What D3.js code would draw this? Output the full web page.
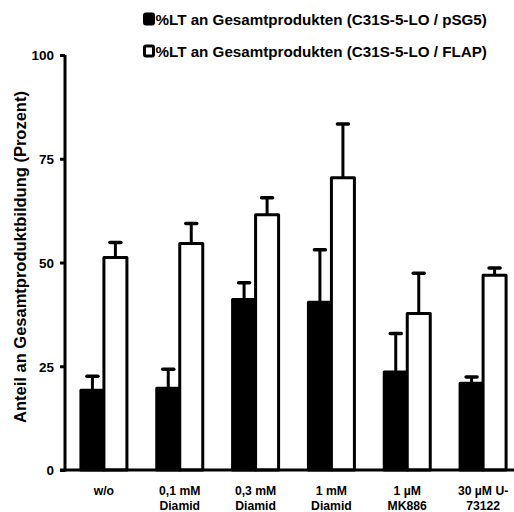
<!DOCTYPE html>
<html>
<head>
<meta charset="utf-8">
<script src="https://cdn.jsdelivr.net/npm/d3@7"></script>
<style>
  html, body { margin: 0; padding: 0; background: #fff; }
  svg { display: block; }
  text { font-family: "Liberation Sans", Arial, sans-serif; font-weight: bold; fill: #000; }
</style>
</head>
<body>
<svg id="chart" width="514" height="512"></svg>
<script>
// Categories (two-line tick labels)
const categories = ["w/o", "0,1 mM Diamid", "0,3 mM Diamid", "1 mM Diamid", "1 µM MK886", "30 µM U-73122"];
const categoryLines = [["w/o"], ["0,1 mM", "Diamid"], ["0,3 mM", "Diamid"], ["1 mM", "Diamid"], ["1 µM", "MK886"], ["30 µM U-", "73122"]];

// Series: mean and upper error (SD)
const seriesNames = ["%LT an Gesamtprodukten (C31S-5-LO / pSG5)", "%LT an Gesamtprodukten (C31S-5-LO / FLAP)"];
const pSG5Values = [19.2, 19.7, 41.1, 40.4, 23.6, 20.9];
const pSG5Errors = [3.4, 4.6, 4.0, 12.7, 9.3, 1.5];
const flapValues = [51.2, 54.6, 61.5, 70.4, 37.7, 46.9];
const flapErrors = [3.6, 4.8, 4.1, 13.0, 9.7, 1.8];

const yTicks = [0, 25, 50, 75, 100];

const svg = d3.select("#chart");

const x0 = d3.scaleBand().domain(categories).range([66, 521]).padding(0);
const barW = 23;
const x1 = d3.scaleBand().domain(seriesNames)
  .range([x0.bandwidth() / 2 - barW, x0.bandwidth() / 2 + barW]).padding(0);
const y = d3.scaleLinear().domain([0, 100]).range([470, 55]);

const fills = ["#000", "#fff"];
const valuesBySeries = [pSG5Values, flapValues];
const errorsBySeries = [pSG5Errors, flapErrors];

const rows = [];
categories.forEach((c, i) => {
  seriesNames.forEach((s, k) => {
    rows.push({ cat: c, series: s, k, value: valuesBySeries[k][i], err: errorsBySeries[k][i] });
  });
});

// Error bars (upper only), drawn behind the bars
const eb = svg.append("g").attr("stroke", "#000").attr("stroke-width", 3).attr("fill", "none");
rows.forEach(d => {
  const cx = x0(d.cat) + x1(d.series) + x1.bandwidth() / 2;
  eb.append("line").attr("x1", cx).attr("x2", cx)
    .attr("y1", y(d.value)).attr("y2", y(d.value + d.err));
  eb.append("line").attr("x1", cx - 5.5).attr("x2", cx + 5.5)
    .attr("y1", y(d.value + d.err)).attr("y2", y(d.value + d.err))
    .attr("stroke-linecap", "round").attr("stroke-width", 3.5);
});

// Bars
svg.append("g").selectAll("rect").data(rows).join("rect")
  .attr("x", d => x0(d.cat) + x1(d.series))
  .attr("y", d => y(d.value))
  .attr("width", x1.bandwidth())
  .attr("height", d => y(0) - y(d.value))
  .attr("fill", d => fills[d.k])
  .attr("stroke", "#000")
  .attr("stroke-width", 3)
  .attr("stroke-linejoin", "round");

// Y axis
const yAxis = d3.axisLeft(y).tickValues(yTicks).tickSize(5).tickPadding(6).tickFormat(d3.format("d"));
const yg = svg.append("g").attr("transform", "translate(65,0)").call(yAxis);
yg.select(".domain").attr("stroke-width", 3).attr("d", `M0,${y(100)}V${y(0) + 1.5}`);
yg.selectAll(".tick line").attr("stroke-width", 3);
yg.selectAll(".tick text").attr("font-size", 13.5).attr("dy", "0.36em");

// X axis (baseline only, labels below)
svg.append("line").attr("x1", 60).attr("x2", 514).attr("y1", y(0)).attr("y2", y(0))
  .attr("stroke", "#000").attr("stroke-width", 3);
const xl = svg.append("g");
categories.forEach((c, i) => {
  const cx = x0(c) + x0.bandwidth() / 2;
  const t = xl.append("text").attr("text-anchor", "middle").attr("font-size", 12.2).attr("x", cx).attr("y", 495);
  categoryLines[i].forEach((ln, j) => {
    t.append("tspan").attr("x", cx).attr("dy", j === 0 ? 0 : 14.5).text(ln);
  });
});

// Y axis title
svg.append("text")
  .attr("transform", "translate(26,257) rotate(-90)")
  .attr("text-anchor", "middle").attr("font-size", 16.5)
  .text("Anteil an Gesamtproduktbildung (Prozent)");

// Legend
const lg = svg.append("g");
seriesNames.forEach((s, k) => {
  const base = 25 + k * 32;
  lg.append("rect").attr("x", 144.5).attr("y", base - 11).attr("width", 9).attr("height", 10)
    .attr("rx", 1.5).attr("fill", fills[k]).attr("stroke", "#000").attr("stroke-width", 3);
  lg.append("text").attr("x", 155.5).attr("y", base).attr("font-size", 15.2).text(s);
});
</script>
</body>
</html>
